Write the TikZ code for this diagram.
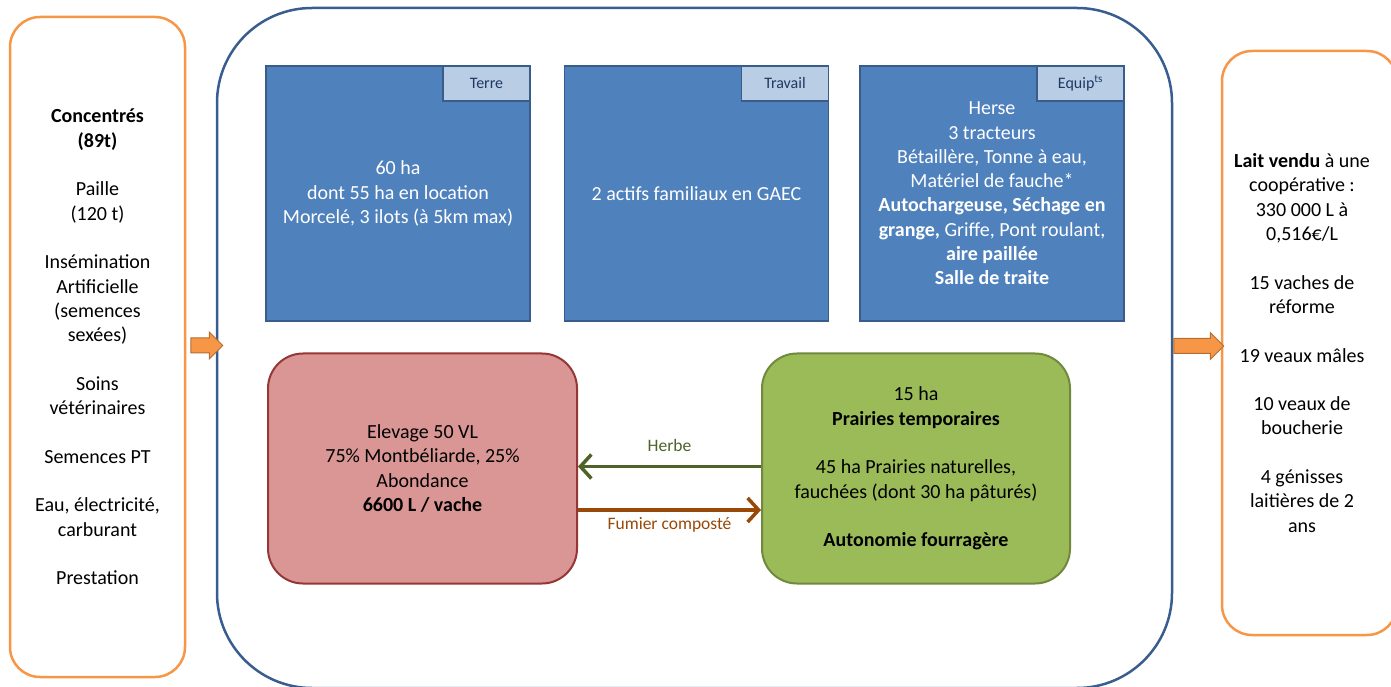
\documentclass[tikz,border=0pt]{standalone}
\usepackage{fontspec}
\setmainfont{Carlito}
\usetikzlibrary{calc,positioning,shapes.arrows,arrows.meta}

\definecolor{orangeline}{HTML}{F79646}
\definecolor{orangedark}{HTML}{B66D31}
\definecolor{frameblue}{HTML}{3A5D8F}
\definecolor{boxblue}{HTML}{4F81BD}
\definecolor{boxblueline}{HTML}{385D8A}
\definecolor{tabblue}{HTML}{B9CDE5}
\definecolor{tabtext}{HTML}{1F3864}
\definecolor{redfill}{HTML}{D99694}
\definecolor{redline}{HTML}{953735}
\definecolor{greenfill}{HTML}{9BBB59}
\definecolor{greenline}{HTML}{71893F}
\definecolor{herbecol}{HTML}{4F6228}
\definecolor{fumiercol}{HTML}{984807}

\newcommand{\maintext}{\fontsize{20}{24.3}\selectfont}

\tikzset{
    iobox/.style={draw=orangeline, line width=2.5pt, rounded corners=30pt,
        minimum width=175pt, align=center, font=\maintext},
    flow/.style={single arrow, draw=orangedark, fill=orangeline,
        line width=1pt, inner xsep=0pt, inner ysep=7pt,
        single arrow head extend=6pt, single arrow head indent=0pt},
    bluebox/.style={draw=boxblueline, fill=boxblue, line width=1.5pt,
        minimum width=264pt, minimum height=255pt, align=center,
        text=white, font=\maintext},
    tab/.style={draw=boxblueline, fill=tabblue, line width=1.5pt,
        minimum width=87pt, minimum height=35pt, inner sep=0pt,
        text=tabtext, font=\fontsize{16}{19}\selectfont},
    pool/.style={rounded corners=35pt, line width=2pt, minimum width=309pt,
        minimum height=230pt, align=center, font=\maintext},
    link/.style={line width=3.5pt, -{Straight Barb[length=11pt,width=24pt]}},
    linklabel/.style={font=\fontsize{17.5}{21}\selectfont}
}

\begin{document}
\begin{tikzpicture}[x=1pt,y=1pt]

\useasboundingbox (0,0) rectangle (1391,686);

% Draw farm frame.
\node[draw=frameblue, line width=2.5pt, rounded corners=95pt,
    minimum width=955pt, minimum height=680pt] (cadre) at (694.5,338) {};

% Inputs on the left.
\node[iobox, minimum height=660pt] (intrants) at (97.5,339) {%
    \textbf{Concentrés}\\\textbf{(89t)}\\[24.3pt]
    Paille\\(120 t)\\[24.3pt]
    Insémination\\Artificielle\\(semences\\sexées)\\[24.3pt]
    Soins\\vétérinaires\\[24.3pt]
    Semences PT\\[24.3pt]
    Eau, électricité,\\carburant\\[24.3pt]
    Prestation};

% Outputs on the right.
\node[iobox, minimum height=584pt] (extrants) at (1309.5,343) {};
\node[align=center, font=\maintext] (extrantstxt) at (1302,343) {%
    \textbf{Lait vendu} à une\\coopérative :\\330 000 L à\\0,516€/L\\[24.3pt]
    15 vaches de\\réforme\\[24.3pt]
    19 veaux mâles\\[24.3pt]
    10 veaux de\\boucherie\\[24.3pt]
    4 génisses\\laitières de 2\\ans};

% Block arrows in and out.
\node[flow, minimum height=32pt, anchor=tail] (fluxin)
    at ([xshift=4pt,yshift=1.5pt]intrants.east) {};
\node[flow, minimum height=50pt, anchor=tail] (fluxout)
    at ([yshift=2pt]cadre.east) {};

% Production factors.
\node[bluebox] (terre) at (398,492.5)
    {60 ha\\dont 55 ha en location\\Morcelé, 3 ilots (à 5km max)};
\node[bluebox, right=33pt of terre] (travail)
    {2 actifs familiaux en GAEC};
\node[bluebox, right=30pt of travail] (equip) {%
    Herse\\3 tracteurs\\Bétaillère, Tonne à eau,\\Matériel de fauche*\\
    \textbf{Autochargeuse, Séchage en}\\
    \textbf{grange,} Griffe, Pont roulant,\\
    \textbf{aire paillée}\\\textbf{Salle de traite}};

% Loop for each tab.
\foreach \n/\t in {terre/Terre, travail/Travail, equip/{Equip\textsuperscript{ts}}} {
    \node[tab, anchor=north east] (\n tab) at (\n.north east) {\t};
}

% Herd and grassland.
\node[pool, draw=redline, fill=redfill] (elevage) at (422.5,217.5)
    {Elevage 50 VL\\75\% Montbéliarde, 25\%\\Abondance\\\textbf{6600 L / vache}};
\node[pool, draw=greenline, fill=greenfill, minimum width=308pt,
    right=183pt of elevage] (prairies) {%
    15 ha\\\textbf{Prairies temporaires}\\[24.3pt]
    45 ha Prairies naturelles,\\fauchées (dont 30 ha pâturés)\\[24.3pt]
    \textbf{Autonomie fourragère}};

% Flows between herd and grassland.
\draw[link, herbecol]
    ([yshift=2pt]prairies.west) -- ([yshift=2pt]elevage.east)
    node[midway, yshift=21pt, linklabel, text=herbecol] (herbe) {Herbe};
\draw[link, fumiercol]
    ([yshift=-41.5pt]elevage.east) -- ([yshift=-41.5pt]prairies.west)
    node[midway, yshift=-15pt, linklabel, text=fumiercol] (fumier) {Fumier composté};

\end{tikzpicture}
\end{document}
